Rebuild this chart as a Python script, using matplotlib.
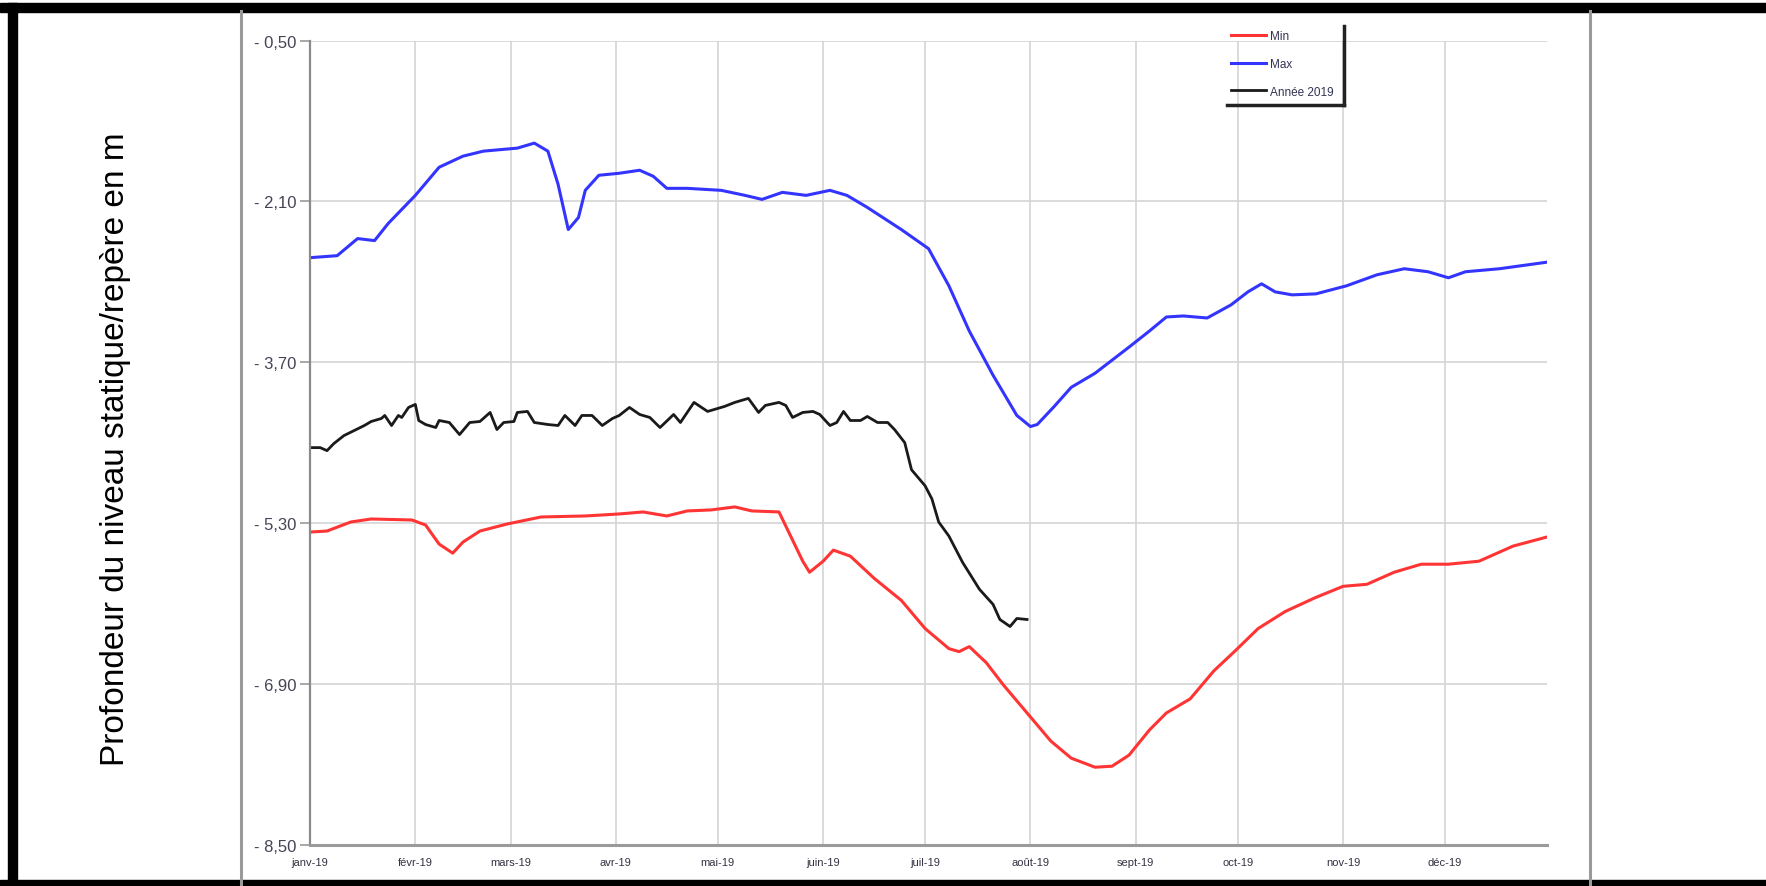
import numpy as np
import pandas as pd
import matplotlib
matplotlib.use('Agg')
from matplotlib import pyplot as plt
from matplotlib.lines import Line2D
from matplotlib.patches import Rectangle

plt.rcParams['font.family'] = ['Liberation Sans', 'DejaVu Sans']

# jours depuis le 1er janvier 2019 / profondeur en m
jours_max = [0, 8, 14, 19, 23, 31, 38, 45, 51, 61, 66, 70, 73, 76, 79, 81, 85, 91, 97, 101,
             105, 111, 121, 128, 133, 139, 146, 153, 158, 164, 174, 182, 188, 194, 201, 208,
             212, 214, 219, 224, 231, 241, 247, 252, 257, 264, 271, 276, 280, 284, 289, 296,
             305, 314, 322, 329, 335, 340, 350, 365]
val_max = [-2.66, -2.64, -2.47, -2.49, -2.32, -2.04, -1.76, -1.65, -1.60, -1.57, -1.52, -1.60,
           -1.93, -2.38, -2.26, -1.99, -1.84, -1.82, -1.79, -1.85, -1.97, -1.97, -1.99, -2.04,
           -2.08, -2.01, -2.04, -1.99, -2.04, -2.16, -2.38, -2.57, -2.94, -3.39, -3.83, -4.23,
           -4.34, -4.32, -4.14, -3.95, -3.81, -3.55, -3.39, -3.25, -3.24, -3.26, -3.13, -3.00,
           -2.92, -3.00, -3.03, -3.02, -2.94, -2.83, -2.77, -2.80, -2.86, -2.80, -2.77, -2.70]

jours_min = [0, 5, 12, 18, 30, 34, 38, 42, 45, 50, 58, 68, 81, 91, 98, 105, 111, 118, 125, 130,
             138, 141, 145, 147, 151, 154, 159, 166, 174, 181, 188, 191, 194, 199, 204, 211,
             218, 224, 231, 236, 241, 247, 252, 259, 266, 272, 279, 287, 296, 304, 311, 319,
             327, 335, 344, 354, 365]
val_min = [-5.39, -5.38, -5.29, -5.26, -5.27, -5.32, -5.51, -5.60, -5.49, -5.38, -5.31, -5.24,
           -5.23, -5.21, -5.19, -5.23, -5.18, -5.17, -5.14, -5.18, -5.19, -5.40, -5.68, -5.79,
           -5.68, -5.57, -5.63, -5.85, -6.07, -6.35, -6.55, -6.58, -6.53, -6.69, -6.91, -7.19,
           -7.47, -7.64, -7.73, -7.72, -7.61, -7.36, -7.19, -7.05, -6.77, -6.58, -6.35, -6.18,
           -6.04, -5.93, -5.91, -5.79, -5.71, -5.71, -5.68, -5.53, -5.43]

jours_2019 = [0, 3, 5, 7, 10, 13, 16, 18, 21, 22, 24, 26, 27, 29, 31, 32, 34, 37, 38, 41,
              44, 47, 50, 53, 55, 57, 60, 61, 64, 66, 70, 73, 75, 78, 80, 83, 86, 89, 91, 94,
              97, 100, 103, 107, 109, 113, 117, 122, 125, 129, 132, 134, 138, 140, 142, 145,
              148, 150, 153, 155, 157, 159, 162, 164, 167, 170, 172, 175, 177, 179, 181, 183,
              185, 188, 192, 197, 201, 203, 206, 208, 211]
val_2019 = [-4.55, -4.55, -4.58, -4.51, -4.43, -4.38, -4.33, -4.29, -4.26, -4.23, -4.33, -4.23,
            -4.25, -4.15, -4.12, -4.28, -4.32, -4.35, -4.28, -4.30, -4.42, -4.30, -4.29, -4.20,
            -4.37, -4.30, -4.29, -4.20, -4.19, -4.30, -4.32, -4.33, -4.23, -4.33, -4.23, -4.23,
            -4.33, -4.26, -4.23, -4.15, -4.22, -4.25, -4.35, -4.22, -4.30, -4.10, -4.19, -4.14,
            -4.10, -4.06, -4.20, -4.13, -4.10, -4.13, -4.25, -4.20, -4.19, -4.22, -4.33, -4.30,
            -4.19, -4.28, -4.28, -4.24, -4.30, -4.30, -4.37, -4.50, -4.77, -4.85, -4.93, -5.06,
            -5.29, -5.43, -5.69, -5.96, -6.11, -6.26, -6.33, -6.25, -6.26]

mois = ['janv-19', 'févr-19', 'mars-19', 'avr-19', 'mai-19', 'juin-19', 'juil-19', 'août-19',
        'sept-19', 'oct-19', 'nov-19', 'déc-19']
yticks = [-0.5, -2.1, -3.7, -5.3, -6.9, -8.5]

debut = pd.Timestamp('2019-01-01')
def dates(j):
    return debut + pd.to_timedelta(j, unit='D')

W, H = 1766, 887
fig = plt.figure(figsize=(W / 100, H / 100), dpi=100)
ax = fig.add_axes([310/W, 41.4/H, 1237/W, 804/H])

ax.plot(dates(jours_min), val_min, color='#ff3434', lw=2.2, label='Min')
ax.plot(dates(jours_max), val_max, color='#3434ff', lw=2.2, label='Max')
ax.plot(dates(jours_2019), val_2019, color='#1a1a1a', lw=2.0, label='Année 2019')

ax.set_ylim(-8.5, -0.5)
ax.set_xlim(debut, pd.Timestamp('2019-12-31'))
ax.set_yticks(yticks)
ax.set_yticklabels([('- %.2f' % abs(v)).replace('.', ',') for v in yticks])
pos_mois = [pd.Timestamp(2019, m, 1) for m in range(1, 13)]
ax.set_xticks(pos_mois)
ax.set_xticklabels(mois, fontsize=8, color='#333344')
ax.tick_params(axis='y', labelsize=12, labelcolor='#444455', length=7, color='#999999',
               width=1.2, pad=3)
ax.tick_params(axis='x', length=0, pad=9)
ax.grid(True, color='#d4d4d4', lw=1.2)
ax.set_axisbelow(True)
for s in ['top', 'right']:
    ax.spines[s].set_visible(False)
ax.spines['left'].set_color('#8a8a8a')
ax.spines['left'].set_linewidth(1.6)
ax.spines['bottom'].set_color('#9a9a9a')
ax.spines['bottom'].set_linewidth(2.2)

leg = ax.legend(loc='upper left', bbox_to_anchor=(1226/W, 1 - 26/H),
                bbox_transform=fig.transFigure, frameon=False, fontsize=8.5, handlelength=3.0,
                handletextpad=0.3, labelspacing=1.35, borderaxespad=0, borderpad=0.4)
for t in leg.get_texts():
    t.set_color('#333355')
# bordure du cadre de légende (seuls les bords droit et bas sont visibles)
fig.add_artist(Line2D([1344/W, 1344/W], [1 - 27/H, 1 - 106/H], color='#222222', lw=2.5))
fig.add_artist(Line2D([1227/W, 1344/W], [1 - 106/H, 1 - 106/H], color='#222222', lw=2.5))

fig.text(116/W, 1 - 449/H, 'Profondeur du niveau statique/repère en m', rotation=90,
         fontsize=24, ha='center', va='center')

# cadre de la capture
fig.add_artist(Line2D([241/W, 241/W], [0, 1 - 12/H], color='#9a9a9a', lw=2.2))
fig.add_artist(Line2D([1590/W, 1590/W], [0, 1 - 12/H], color='#9a9a9a', lw=2.2))
fig.add_artist(Rectangle((0, 1 - 13/H), 1, 9/H, transform=fig.transFigure, color='black'))
fig.add_artist(Rectangle((8/W, 0), 9/W, 1 - 4/H, transform=fig.transFigure, color='black'))
fig.add_artist(Rectangle((0, 0), 1, 6/H, transform=fig.transFigure, color='black'))

fig.savefig('out.png', dpi=100)
